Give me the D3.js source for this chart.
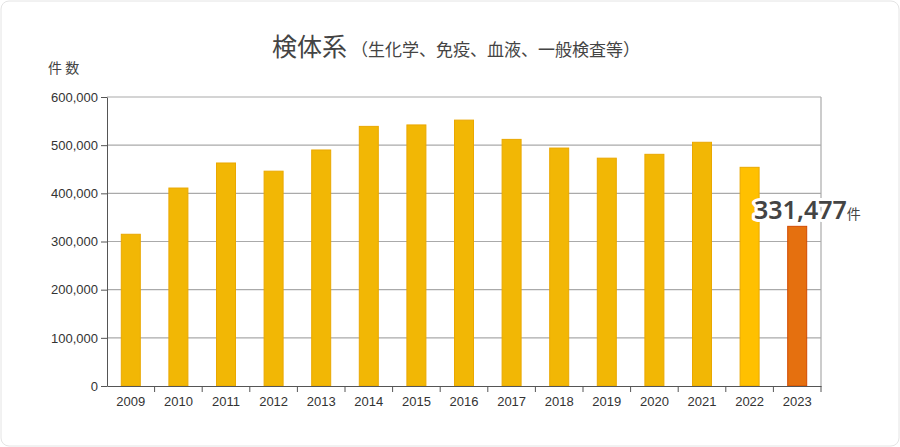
<!DOCTYPE html><html><head><meta charset="utf-8"><script src="https://cdn.jsdelivr.net/npm/d3@7"></script>
<style>body{margin:0;background:#fff}</style></head><body><svg id="c" width="900" height="447"></svg><script>
const years=["2009","2010","2011","2012","2013","2014","2015","2016","2017","2018","2019","2020","2021","2022","2023"];
const values=[315000,411000,463000,446000,490000,539000,542000,552000,512000,494000,473000,481000,506000,454000,331477];
const yTicks=[0,100000,200000,300000,400000,500000,600000];
const svg=d3.select("#c");
const L=107,R=821,T=97,B=386;
const x=d3.scaleBand().domain(years).range([L,R]);
const y=d3.scaleLinear().domain([0,600000]).range([B,T]);
const fmt=d3.format(",");
svg.append("rect").attr("x",1).attr("y",1).attr("width",898).attr("height",445).attr("rx",8).attr("fill","none").attr("stroke","#e4e4e4");
svg.append("g").selectAll("line").data(yTicks.slice(1)).join("line").attr("x1",L).attr("x2",R).attr("y1",d=>y(d)).attr("y2",d=>y(d)).attr("stroke","#aaa").attr("stroke-width",1.2);
svg.append("line").attr("x1",R).attr("x2",R).attr("y1",T).attr("y2",B).attr("stroke","#aaa").attr("stroke-width",1.2);
const bw=19;
svg.append("g").selectAll("rect").data(values).join("rect")
 .attr("x",(d,i)=>x(years[i])+x.bandwidth()/2-bw/2).attr("width",bw)
 .attr("y",d=>y(d)).attr("height",d=>B-y(d))
 .attr("fill",(d,i)=>i==14?"#e5700f":(i==13?"#ffc000":"#f2b705"))
 .attr("stroke",(d,i)=>i==14?"#d24a00":"#eaa800").attr("stroke-width",1);
const ya=svg.append("g").attr("transform",`translate(${L},0)`).call(d3.axisLeft(y).tickValues(yTicks).tickFormat(fmt).tickSize(6).tickSizeOuter(0));
const xa=svg.append("g").attr("transform",`translate(0,${B})`).call(d3.axisBottom(x).tickSize(0));
[ya,xa].forEach(a=>{a.selectAll("path,line").attr("stroke","#555");a.selectAll("text").attr("font-family","Liberation Sans, Arial").attr("font-size",13).attr("fill","#333");});
xa.selectAll("text").attr("dy","1.3em");
svg.append("g").selectAll("line").data(years.slice(1).concat(["end"])).join("line")
 .attr("x1",(d,i)=>L+(i+1)*x.bandwidth()).attr("x2",(d,i)=>L+(i+1)*x.bandwidth()).attr("y1",B).attr("y2",B+6).attr("stroke","#555");
svg.append("text").attr("x",272).attr("y",56).attr("font-family","Noto Sans CJK JP").attr("fill","#444")
 .call(t=>{t.append("tspan").attr("font-size",25).text("検体系");t.append("tspan").attr("font-size",17).attr("dx",4).text("（生化学、免疫、血液、一般検査等）");});
svg.append("text").attr("x",48).attr("y",73).attr("font-family","Noto Sans CJK JP").attr("font-size",14).attr("fill","#444").text("件 数");
const lab=svg.append("text").attr("x",754).attr("y",219).attr("font-family","Noto Sans, Open Sans").attr("fill","#444").attr("font-weight",600)
 .attr("stroke","#fff").attr("stroke-width",6).attr("paint-order","stroke").attr("stroke-linejoin","round");
lab.append("tspan").attr("font-size",25).text(fmt(values[14]));
lab.append("tspan").attr("font-size",14).attr("font-family","Noto Sans CJK JP").attr("font-weight",400).text("件");
</script></body></html>
